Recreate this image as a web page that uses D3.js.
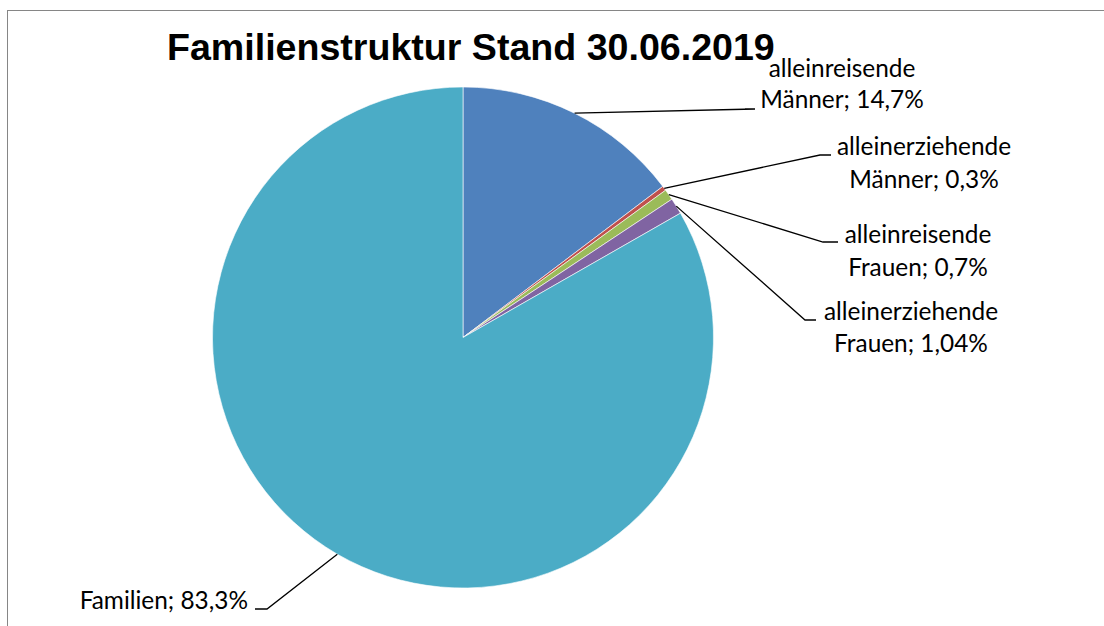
<!DOCTYPE html>
<html>
<head>
<meta charset="utf-8">
<script src="https://cdn.jsdelivr.net/npm/d3@7"></script>
<style>
    body { margin: 0; background: #fff; }
    .title { font-family: 'Liberation Sans', Arial, sans-serif; font-weight: bold; font-size: 37.6px; }
    .label { font-family: Lato, 'Noto Sans', sans-serif; font-size: 24.4px; fill: #000; }
    .leader { fill: none; stroke: #000; stroke-width: 1.3; }
</style>
</head>
<body>
<div id="chart"></div>
<script>
// data
const categories = ['alleinreisende Männer', 'alleinerziehende Männer', 'alleinreisende Frauen', 'alleinerziehende Frauen', 'Familien']
const values = [14.7, 0.3, 0.7, 1.04, 83.3]
const valueLabels = ['14,7%', '0,3%', '0,7%', '1,04%', '83,3%']
const labelLines = [
    ['alleinreisende', 'Männer; 14,7%'],
    ['alleinerziehende', 'Männer; 0,3%'],
    ['alleinreisende', 'Frauen; 0,7%'],
    ['alleinerziehende', 'Frauen; 1,04%'],
    ['Familien; 83,3%']
]
const colors = ['#4F81BD', '#C0504D', '#9BBB59', '#8064A2', '#4BACC6']

// where each label sits (elbow point of the leader, text anchor, first baseline)
const labelPos = [
    { elbow: [755, 109], end: [745, 109], tx: 842, ty: 77, gap: 31, anchor: 'middle' },
    { elbow: [820, 155], end: [831, 155], tx: 924, ty: 155, gap: 33, anchor: 'middle' },
    { elbow: [823, 242], end: [838, 242], tx: 918, ty: 243, gap: 33, anchor: 'middle' },
    { elbow: [805, 320], end: [816, 320], tx: 911, ty: 320, gap: 32, anchor: 'middle' },
    { elbow: [267, 609], end: [255, 609], tx: 248, ty: 609, gap: 0, anchor: 'end' }
]

const DIM = { width: 1104, height: 626, cx: 463, cy: 337.5, r: 250.5 }

const svg = d3.select('#chart').append('svg')
    .attr('width', DIM.width)
    .attr('height', DIM.height)

// frame
svg.append('rect')
    .attr('x', 7.5)
    .attr('y', 10.5)
    .attr('width', DIM.width)
    .attr('height', DIM.height)
    .attr('fill', 'none')
    .attr('stroke', '#868686')
    .attr('stroke-width', 1)

const data = categories.map((c, i) => ({ name: c, value: values[i], label: valueLabels[i], i: i }))

const pie = d3.pie().sort(null).value(d => d.value)
const arc = d3.arc().innerRadius(0).outerRadius(DIM.r)
const edgeArc = d3.arc().innerRadius(DIM.r).outerRadius(DIM.r)

const g = svg.append('g')
    .attr('transform', `translate(${DIM.cx}, ${DIM.cy})`)

const arcs = pie(data)

g.selectAll('.slice')
    .data(arcs)
    .join('path')
    .attr('class', 'slice')
    .attr('d', arc)
    .attr('fill', d => colors[d.data.i])
    .attr('stroke', '#fff')
    .attr('stroke-width', 0.6)

// leader lines: from the slice's outer edge to the elbow, then a short horizontal tick
svg.selectAll('.leader')
    .data(arcs)
    .join('polyline')
    .attr('class', 'leader')
    .attr('points', d => {
        const p = edgeArc.centroid(d)
        const lp = labelPos[d.data.i]
        return [[DIM.cx + p[0], DIM.cy + p[1]], lp.elbow, lp.end].map(q => q.join(',')).join(' ')
    })

svg.selectAll('.label')
    .data(arcs)
    .join('text')
    .attr('class', 'label')
    .attr('text-anchor', d => labelPos[d.data.i].anchor)
    .attr('x', d => labelPos[d.data.i].tx)
    .attr('y', d => labelPos[d.data.i].ty)
    .selectAll('tspan')
    .data(d => labelLines[d.data.i].map(t => ({ t: t, lp: labelPos[d.data.i] })))
    .join('tspan')
    .attr('x', d => d.lp.tx)
    .attr('dy', (d, j) => j === 0 ? 0 : d.lp.gap)
    .text(d => d.t)

svg.append('text')
    .attr('class', 'title')
    .attr('x', 167)
    .attr('y', 60)
    .text('Familienstruktur Stand 30.06.2019')
</script>
</body>
</html>
